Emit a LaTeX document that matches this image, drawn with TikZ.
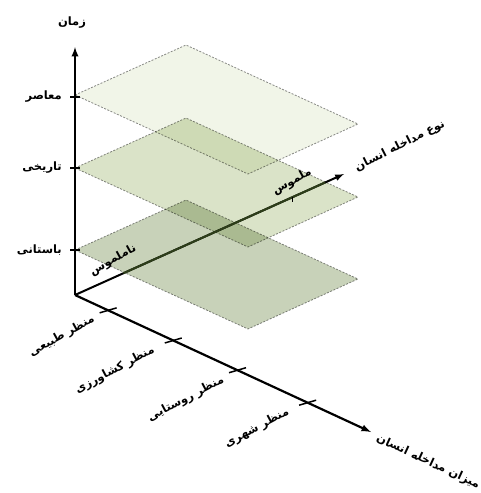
\documentclass[tikz,border=0pt]{standalone}
\usepackage{fontspec}
\newfontfamily\fafont[Script=Arabic]{DejaVu Sans}
\TeXXeTstate=1
\usetikzlibrary{calc}
\definecolor{topgreen}{RGB}{241,245,232}
\definecolor{midgreen}{RGB}{218,227,200}
\definecolor{lowgreen}{RGB}{200,210,185}
\definecolor{edgegray}{RGB}{140,140,140}
\definecolor{axisolive}{RGB}{45,62,25}
\newcommand{\fa}[1]{\beginR #1\endR}
\tikzset{
  axisline/.style={line width=2.2pt,->},
  plane/.style={draw=edgegray,dash pattern=on 2pt off 1.5pt,line width=0.8pt},
  falabel/.style={font=\fafont\bfseries\fontsize{11.5}{13}\selectfont,inner sep=1pt},
}
\begin{document}
\begin{tikzpicture}[x=1pt,y=-1pt,>=latex]
\path[use as bounding box] (0,0) rectangle (481,493);
\coordinate (O) at (75,295);
\coordinate (timetip) at (75,47);
\coordinate (typetip) at (344,174);
\coordinate (degtip) at (371,432);

% type axis first, the planes lie over it
\draw[axisline,line width=2pt] (O) -- (typetip);

% three time planes
\begin{scope}[blend mode=multiply]
  \foreach \y/\c in {250/lowgreen,168/midgreen,95/topgreen}
    \filldraw[plane,fill=\c] (75,\y) -- ++(111,-50) -- ++(172,79) -- ++(-110,50) -- cycle;
\end{scope}
\draw[line width=2pt,axisolive] ($(O)!0.18!(typetip)$) -- ($(O)!0.93!(typetip)$);
\draw[line width=1.2pt] ($(O)!0.81!(typetip)$) -- ++(0,5);

% time axis
\draw[axisline] (O) -- (timetip);
\foreach \y in {97,168,250}
  \draw[line width=1.8pt] (70,\y) -- (80,\y);
\node[falabel] (time) at (72,23) {\fa{زمان}};
\node[falabel,anchor=east] (contemp) at (63,97) {\fa{معاصر}};
\node[falabel,anchor=east] (histor) at (63,168) {\fa{تاریخی}};
\node[falabel,anchor=east] (ancient) at (63,250) {\fa{باستانی}};

% degree axis
\draw[axisline] (O) -- (degtip);
\foreach \t in {0.112,0.332,0.549,0.786}
  \draw[line width=1.5pt] ($(O)!\t!(degtip)+(-8.5,2.5)$) -- ++(17,-5);

\node[falabel,rotate=29] (intang) at (113,260) {\fa{ناملموس}};
\node[falabel,rotate=29] (tang) at (292,182) {\fa{ملموس}};
\node[falabel,rotate=27] (typelab) at (400,146) {\fa{نوع مداخله انسان}};
\node[falabel,rotate=29] (natural) at (62,336) {\fa{منظر طبیعی}};
\node[falabel,rotate=28] (agri) at (115,370) {\fa{منظر کشاورزی}};
\node[falabel,rotate=28] (rural) at (186,399) {\fa{منظر روستایی}};
\node[falabel,rotate=28] (urban) at (257,428) {\fa{منظر شهری}};
\node[falabel,rotate=-25] (deglab) at (428,462) {\fa{میزان مداخله انسان}};
\end{tikzpicture}
\end{document}
